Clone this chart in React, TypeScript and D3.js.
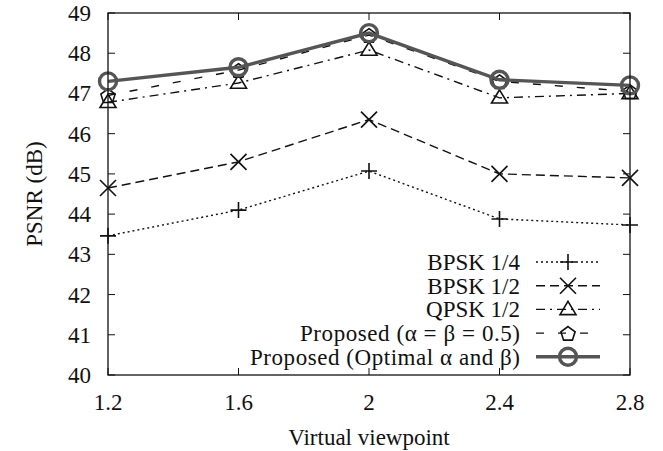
import React from "react";
import * as d3 from "d3";

const viewpoints = [1.2, 1.6, 2.0, 2.4, 2.8];
const bpsk14 = [43.46, 44.1, 45.07, 43.88, 43.73];
const bpsk12 = [44.65, 45.3, 46.35, 45.0, 44.9];
const qpsk12 = [46.78, 47.26, 48.08, 46.89, 47.0];
const proposedHalf = [46.95, 47.58, 48.45, 47.3, 47.05];
const proposedOpt = [47.3, 47.65, 48.5, 47.34, 47.2];
const seriesNames = [
  "BPSK 1/4",
  "BPSK 1/2",
  "QPSK 1/2",
  "Proposed (α = β = 0.5)",
  "Proposed (Optimal α and β)",
];
const xTicks = [1.2, 1.6, 2.0, 2.4, 2.8];
const yTicks = [40, 41, 42, 43, 44, 45, 46, 47, 48, 49];

const W = 663, H = 451;
const L = 108, R = 630, T = 13, B = 375;
const FONT = "'Liberation Serif', 'Times New Roman', serif";
const FS = 23;
const legendWidths: (number | undefined)[] = [undefined, undefined, undefined, 220, 270];

type Marker = "plus" | "x" | "tri" | "pent" | "circle";
const styles: { dash: string; marker: Marker; color: string; width: number }[] = [
  { dash: "2,3", marker: "plus", color: "#111", width: 1.4 },
  { dash: "9,5", marker: "x", color: "#111", width: 1.4 },
  { dash: "9,5,2,5", marker: "tri", color: "#111", width: 1.4 },
  { dash: "8,14", marker: "pent", color: "#111", width: 1.4 },
  { dash: "", marker: "circle", color: "#555", width: 3.4 },
];

function MarkerShape({ m, x, y, color }: { m: Marker; x: number; y: number; color: string }) {
  const s = 8;
  if (m === "plus")
    return <path d={`M${x - s},${y}H${x + s}M${x},${y - s}V${y + s}`} stroke={color} strokeWidth={1.6} fill="none" />;
  if (m === "x")
    return <path d={`M${x - s},${y - s}L${x + s},${y + s}M${x - s},${y + s}L${x + s},${y - s}`} stroke={color} strokeWidth={1.6} fill="none" />;
  if (m === "tri") {
    const h = 8;
    return <path d={`M${x},${y - h}L${x + h},${y + h * 0.65}L${x - h},${y + h * 0.65}Z`} stroke={color} strokeWidth={1.6} fill="none" />;
  }
  if (m === "pent") {
    const pts = d3.range(5).map((i) => {
      const a = -Math.PI / 2 + (i * 2 * Math.PI) / 5;
      return [x + 7.5 * Math.cos(a), y + 7.5 * Math.sin(a) + 1];
    });
    return <path d={"M" + pts.map((p) => p.join(",")).join("L") + "Z"} stroke={color} strokeWidth={1.6} fill="none" />;
  }
  return <circle cx={x} cy={y} r={8.5} stroke={color} strokeWidth={3.4} fill="none" />;
}

export default function App() {
  const x = d3.scaleLinear().domain([1.2, 2.8]).range([L, R]);
  const y = d3.scaleLinear().domain([40, 49]).range([B, T]);
  const data = [bpsk14, bpsk12, qpsk12, proposedHalf, proposedOpt];
  const line = d3
    .line<number>()
    .x((_, i) => x(viewpoints[i]))
    .y((d) => y(d));

  const legendY0 = 262;
  const legendDy = 23.7;

  return (
    <svg width={W} height={H} style={{ position: "absolute", left: 0, top: 0, background: "#fff" }} fontFamily={FONT}>
      <rect x={0} y={0} width={W} height={H} fill="#fff" />
      {yTicks.map((t) => (
        <g key={"y" + t}>
          <line x1={L} x2={L + 7} y1={y(t)} y2={y(t)} stroke="#111" strokeWidth={1} />
          <line x1={R} x2={R - 7} y1={y(t)} y2={y(t)} stroke="#111" strokeWidth={1} />
          <text x={91} y={y(t)} dy="0.35em" textAnchor="end" fontSize={FS} fill="#111">
            {t}
          </text>
        </g>
      ))}
      {xTicks.map((t) => (
        <g key={"x" + t}>
          <line x1={x(t)} x2={x(t)} y1={B} y2={B - 7} stroke="#111" strokeWidth={1} />
          <line x1={x(t)} x2={x(t)} y1={T} y2={T + 7} stroke="#111" strokeWidth={1} />
          <text x={x(t)} y={402} dy="0.35em" textAnchor="middle" fontSize={FS} fill="#111">
            {d3.format(".1~f")(t)}
          </text>
        </g>
      ))}
      {data.map((vals, si) => (
        <g key={"s" + si}>
          <path
            d={line(vals) || ""}
            fill="none"
            stroke={styles[si].color}
            strokeWidth={styles[si].width}
            strokeDasharray={styles[si].dash || undefined}
          />
          {vals.map((v, i) => (
            <MarkerShape key={i} m={styles[si].marker} x={x(viewpoints[i])} y={y(v)} color={styles[si].color} />
          ))}
        </g>
      ))}
      {seriesNames.map((name, i) => {
        const ly = legendY0 + i * legendDy;
        const tw = legendWidths[i];
        return (
          <g key={"l" + i}>
            <text
              x={520}
              y={ly}
              dy="0.35em"
              textAnchor="end"
              fontSize={FS}
              fill="#111"
              {...(tw ? { textLength: tw, lengthAdjust: "spacing" } : {})}
            >
              {name}
            </text>
            <line
              x1={536}
              x2={600}
              y1={ly}
              y2={ly}
              stroke={styles[i].color}
              strokeWidth={styles[i].width}
              strokeDasharray={styles[i].dash || undefined}
            />
            <MarkerShape m={styles[i].marker} x={568} y={ly} color={styles[i].color} />
          </g>
        );
      })}
      <rect x={L} y={T} width={R - L} height={B - T} fill="none" stroke="#111" strokeWidth={1.3} />
      <text x={369} y={437} dy="0.35em" textAnchor="middle" fontSize={FS} fill="#111">
        Virtual viewpoint
      </text>
      <text
        transform={`translate(34,${(T + B) / 2}) rotate(-90)`}
        dy="0.35em"
        textAnchor="middle"
        fontSize={FS}
        fill="#111"
      >
        PSNR (dB)
      </text>
    </svg>
  );
}
